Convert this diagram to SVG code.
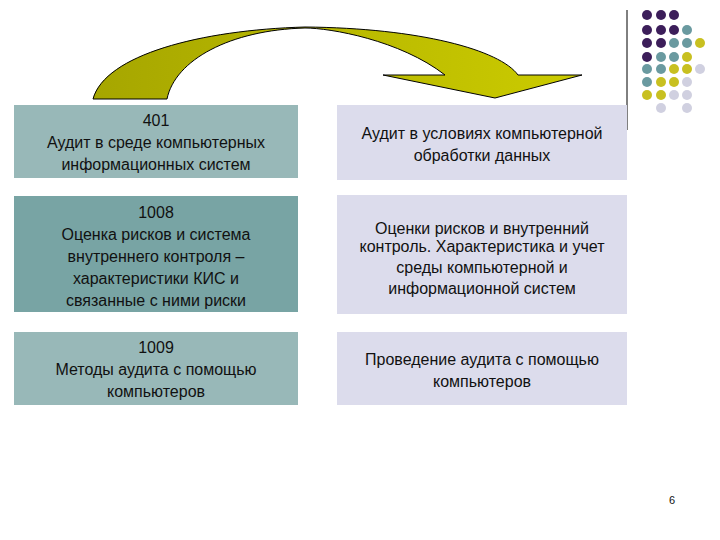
<svg xmlns="http://www.w3.org/2000/svg" width="720" height="540" viewBox="0 0 720 540">
<style>
text{font-family:"Liberation Sans",Arial,sans-serif;font-size:16px;fill:#111;text-anchor:middle}
.l1{fill:#98b8b8}.l2{fill:#78a4a4}.r{fill:#dcdcec}
.D{fill:#3c1e5a}.T{fill:#6a9aa0}.Y{fill:#c8c020}.L{fill:#d0d0e0}
</style>
<defs><linearGradient id="g" x1="0" x2="1" y1="0" y2="0"><stop offset="0" stop-color="#a6a600"/><stop offset="1" stop-color="#cccc00"/></linearGradient></defs>
<rect width="720" height="540" fill="#fff"/>
<g id="arrow">
<path d="M93,99 C105,55 200,30 305,27 C420,28 500,50 518,75 L582,75 L495,98 L383,75 L445,75 C400,40 330,28 305,28 C230,30 175,60 167,99 Z" fill="url(#g)" stroke="#000" stroke-width="1"/>
</g>
<line x1="627" y1="10" x2="627" y2="130" stroke="#000" stroke-width="1"/>
<g id="dots">
<circle class="D" cx="647" cy="15" r="5"/><circle class="D" cx="661" cy="15" r="5"/><circle class="D" cx="674" cy="15" r="5"/>
<circle class="D" cx="647" cy="30" r="5"/><circle class="D" cx="661" cy="30" r="5"/><circle class="D" cx="674" cy="30" r="5"/><circle class="T" cx="687" cy="30" r="5"/>
<circle class="D" cx="647" cy="43" r="5"/><circle class="D" cx="661" cy="43" r="5"/><circle class="T" cx="674" cy="43" r="5"/><circle class="T" cx="687" cy="43" r="5"/><circle class="Y" cx="700" cy="43" r="5"/>
<circle class="D" cx="647" cy="57" r="5"/><circle class="T" cx="661" cy="57" r="5"/><circle class="T" cx="674" cy="57" r="5"/><circle class="Y" cx="687" cy="57" r="5"/>
<circle class="T" cx="647" cy="69" r="5"/><circle class="T" cx="661" cy="69" r="5"/><circle class="Y" cx="674" cy="69" r="5"/><circle class="Y" cx="687" cy="69" r="5"/><circle class="L" cx="700" cy="69" r="5"/>
<circle class="T" cx="647" cy="82" r="5"/><circle class="Y" cx="661" cy="82" r="5"/><circle class="Y" cx="674" cy="82" r="5"/><circle class="L" cx="687" cy="82" r="5"/>
<circle class="Y" cx="647" cy="95" r="5"/><circle class="Y" cx="661" cy="95" r="5"/><circle class="L" cx="674" cy="95" r="5"/><circle class="L" cx="687" cy="95" r="5"/>
<circle class="L" cx="661" cy="108" r="5"/><circle class="L" cx="687" cy="108" r="5"/>
</g>
<g id="n1"><rect class="l1" x="14" y="105" width="284" height="73"/><text x="156" y="126">401</text><text x="156" y="148">Аудит в среде компьютерных</text><text x="156" y="170">информационных систем</text></g>
<g id="n2"><rect class="l2" x="14" y="196" width="284" height="116"/><text x="156" y="218">1008</text><text x="156" y="240">Оценка рисков и система</text><text x="156" y="262">внутреннего контроля –</text><text x="156" y="284">характеристики КИС и</text><text x="156" y="306">связанные с ними риски</text></g>
<g id="n3"><rect class="l1" x="14" y="332" width="284" height="73"/><text x="156" y="353">1009</text><text x="156" y="375">Методы аудита с помощью</text><text x="156" y="397">компьютеров</text></g>
<g id="r1"><rect class="r" x="337" y="105" width="290" height="75"/><text x="482" y="139">Аудит в условиях компьютерной</text><text x="482" y="161">обработки данных</text></g>
<g id="r2"><rect class="r" x="337" y="195" width="290" height="119"/><text x="482" y="234">Оценки рисков и внутренний</text><text x="482" y="252">контроль. Характеристика и учет</text><text x="482" y="273">среды компьютерной и</text><text x="482" y="294">информационной систем</text></g>
<g id="r3"><rect class="r" x="337" y="332" width="290" height="73"/><text x="482" y="365">Проведение аудита с помощью</text><text x="482" y="387">компьютеров</text></g>
<text x="672" y="504" style="font-size:11px">6</text>
</svg>
